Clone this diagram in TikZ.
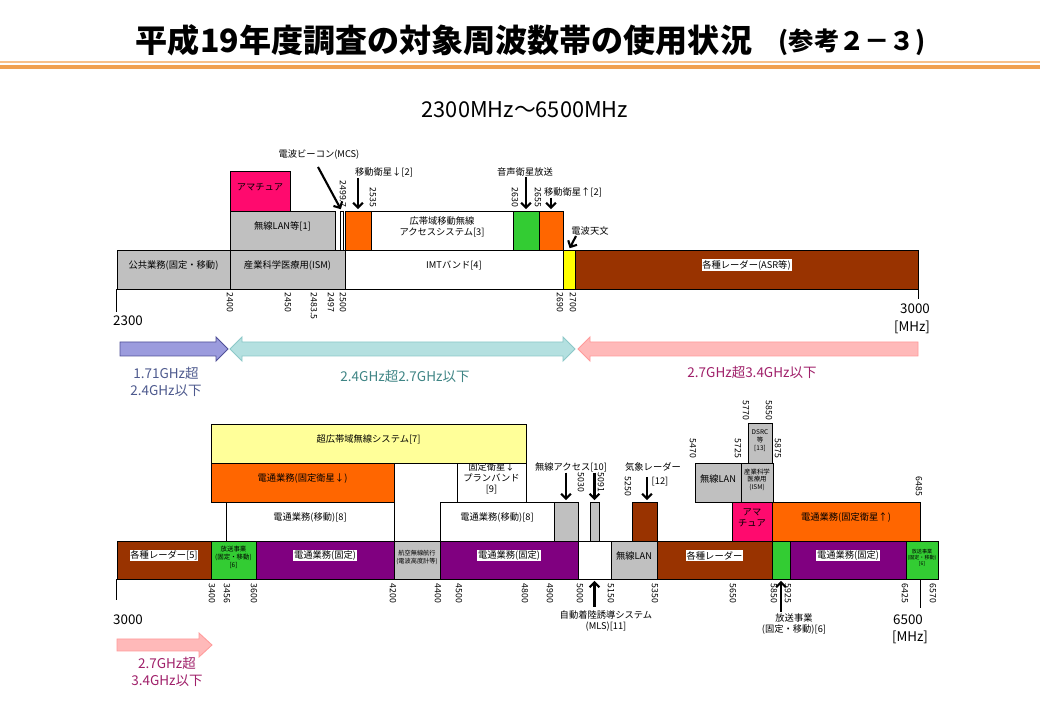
\documentclass[tikz,border=0pt]{standalone}
\usepackage{fontspec}
\setmainfont{Noto Sans CJK JP}
\usepackage{xcolor}
\usetikzlibrary{positioning, arrows.meta, fit}

\definecolor{bandgray}{HTML}{C0C0C0}
\definecolor{bandpink}{HTML}{FF0A6E}
\definecolor{bandorange}{HTML}{FF6600}
\definecolor{bandgreen}{HTML}{33CC33}
\definecolor{bandbrown}{HTML}{993300}
\definecolor{bandpurple}{HTML}{800080}
\definecolor{bandyellow}{HTML}{FFFF00}
\definecolor{uwbyellow}{HTML}{FFFF99}
\definecolor{rulelight}{HTML}{F7C08A}
\definecolor{ruledark}{HTML}{F0A050}
\definecolor{blueband}{HTML}{9B9BDD}
\definecolor{blueedge}{HTML}{505098}
\definecolor{tealband}{HTML}{B4E0E0}
\definecolor{tealedge}{HTML}{8CC8C8}
\definecolor{pinkband}{HTML}{FFB9B9}
\definecolor{pinkedge}{HTML}{FF9A9A}
\definecolor{bluetext}{HTML}{4E5A8E}
\definecolor{tealtext}{HTML}{3F8585}
\definecolor{pinktext}{HTML}{A0206A}

\newcommand{\whitetag}[1]{{\setlength{\fboxsep}{0.6pt}\colorbox{white}{#1}}}

\tikzset{
    band/.style={
        draw=black,           % 边框颜色
        line width=0.7pt,     % 边框线宽
        inner sep=0pt,        % 由 fit 决定大小
        align=center,
        font=\fontsize{6.6}{8}\selectfont
    },
    tinyband/.style={band, font=\fontsize{4.6}{5.4}\selectfont},
    freq_label/.style={
        rotate=-90,           % 频率刻度竖排
        inner sep=0.4pt,
        font=\fontsize{6.2}{7}\selectfont
    },
    note_label/.style={inner sep=0.5pt, align=center, font=\fontsize{6.6}{8}\selectfont},
    pointer_style/.style={
        -{Straight Barb[length=3.5pt,width=7pt]},
        line width=1.5pt,
        shorten >=1pt
    },
    axis_style/.style={line width=0.7pt},
    range_label/.style={align=center, font=\fontsize{9.6}{12}\selectfont},
    end_label/.style={inner sep=0pt, font=\fontsize{9.5}{12}\selectfont}
}

\begin{document}
\begin{tikzpicture}[x=0.025cm, y=-0.025cm]
    \useasboundingbox[fill=white] (0,0) rectangle (1040,720);

    % 1. 标题
    \node[font=\bfseries\fontsize{22.8}{26}\selectfont] (title) at (444,40) {平成19年度調査の対象周波数帯の使用状況};
    \node[font=\bfseries\fontsize{18}{22}\selectfont] (ref) at (852,42) {(参考２－３)};
    \draw[rulelight, line width=1pt] (0,62) -- (1040,62);
    \draw[ruledark, line width=2.2pt] (0,67) -- (1040,67);
    \node[font=\fontsize{15.5}{18}\selectfont] (range) at (525,110) {2300MHz～6500MHz};

    % 2. 上段 2300--3000MHz
    \node[band, fill=bandgray, fit={(117,250) (230,289)}] (kokyo) {公共業務(固定・移動)};
    \node[band, fill=bandgray, fit={(230,250) (345,289)}] (ism1) {産業科学医療用(ISM)};
    \node[band, fill=white, fit={(345,250) (563,289)}] (imt) {IMTバンド[4]};
    \node[band, fill=bandyellow, fit={(563,250) (575,289)}] (rastro) {};
    \node[band, fill=bandbrown, fit={(575,250) (918,289)}] (radar0) {\whitetag{各種レーダー(ASR等)}};
    \node[band, fill=bandgray, fit={(230,211) (335,250)}] (wlan1) {無線LAN等[1]};
    \node[band, fill=white, fit={(340,211) (343,250)}] (beacon) {};
    \node[band, fill=bandorange, fit={(345,211) (371,250)}] (mss1) {};
    \node[band, fill=white, fit={(371,211) (513,250)}] (bwa) {広帯域移動無線\\アクセスシステム[3]};
    \node[band, fill=bandgreen, fit={(513,211) (539,250)}] (sdars) {};
    \node[band, fill=bandorange, fit={(539,211) (563,250)}] (mss2) {};
    \node[band, fill=bandpink, fit={(230,171) (290,211)}] (ama1) {アマチュア};

    % 刻度
    \foreach \x/\f [count=\i] in {230/2400, 288/2450, 314/2483.5, 331/2497, 343/2500, 560/2690, 573/2700}
        \node[freq_label, anchor=west] (ta\i) at (\x,292) {\f};
    \foreach \x/\f [count=\i] in {343/2499.7, 373/2535, 515/2630, 538/2655}
        \node[freq_label, anchor=east] (tb\i) at (\x,208) {\f};

    \draw[axis_style] (kokyo.south west) -- ++(0,23);
    \draw[axis_style] (radar0.south east) -- ++(0,10);
    \node[end_label] (lo1) at (128,321) {2300};
    \node[end_label] (hi1) at (915,309) {3000};
    \node[end_label] (mhz1) at (912,327) {[MHz]};

    % 指示箭头
    \node[note_label] (mcs_l) at (319,155) {電波ビーコン(MCS)};
    \coordinate (mcs_s) at (318,167);
    \draw[pointer_style] (mcs_s) -- (beacon.north);
    \node[note_label] (mss1_l) at (384,172) {移動衛星↓[2]};
    \draw[pointer_style] (mss1_l.south -| mss1.north) -- (mss1.north);
    \node[note_label] (sdars_l) at (525,172) {音声衛星放送};
    \draw[pointer_style] (sdars_l.south -| sdars.north) -- (sdars.north);
    \node[note_label] (mss2_l) at (573,192) {移動衛星↑[2]};
    \draw[pointer_style] (mss2_l.south -| mss2.north) -- (mss2.north);
    \node[note_label] (rastro_l) at (590,231) {電波天文};
    \coordinate (rastro_s) at (576,236);
    \draw[pointer_style] (rastro_s) -- (rastro.north);

    % 3. 频段范围箭头
    \draw[blueedge, fill=blueband, line width=0.6pt]
        (120,342) -- (216,342) -- (216,337) -- (228,349) -- (216,361) -- (216,356) -- (120,356) -- cycle;
    \draw[tealedge, fill=tealband, line width=0.6pt]
        (230,349) -- (242,337) -- (242,342) -- (563,342) -- (563,337) -- (575,349)
        -- (563,361) -- (563,356) -- (242,356) -- (242,361) -- cycle;
    \draw[pinkedge, fill=pinkband, line width=0.6pt]
        (918,342) -- (590,342) -- (590,337) -- (578,349) -- (590,361) -- (590,356) -- (918,356) -- cycle;
    \node[range_label, text=bluetext] (r1) at (166,382) {1.71GHz超\\2.4GHz以下};
    \node[range_label, text=tealtext] (r2) at (405,376) {2.4GHz超2.7GHz以下};
    \node[range_label, text=pinktext] (r3) at (752,372) {2.7GHz超3.4GHz以下};

    % 4. 下段 3000--6500MHz
    \node[band, fill=bandbrown, fit={(117,541) (211,579)}] (radar5) {\whitetag{各種レーダー[5]}};
    \node[tinyband, fill=bandgreen, fit={(211,541) (256,579)}] (bc1) {放送事業\\(固定・移動)\\{}[6]};
    \node[band, fill=bandpurple, fit={(256,541) (394,579)}] (fx1) {\whitetag{電通業務(固定)}};
    \node[tinyband, fill=bandgray, font=\fontsize{4.4}{5.2}\selectfont, fit={(394,541) (440,579)}] (aero) {航空無線航行\\(電波高度計等)};
    \node[band, fill=bandpurple, fit={(440,541) (578,579)}] (fx2) {\whitetag{電通業務(固定)}};
    \node[band, fill=white, fit={(578,541) (611,579)}] (mls) {};
    \node[band, fill=bandgray, fit={(611,541) (657,579)}] (wlan2) {無線LAN};
    \node[band, fill=bandbrown, fit={(657,541) (772,579)}] (radar6) {\whitetag{各種レーダー}};
    \node[band, fill=bandgreen, fit={(772,541) (790,579)}] (bc2) {};
    \node[band, fill=bandpurple, fit={(790,541) (906,579)}] (fx3) {\whitetag{電通業務(固定)}};
    \node[tinyband, fill=bandgreen, font=\fontsize{3.6}{4.3}\selectfont, fit={(906,541) (938,579)}] (bc3) {放送事業\\(固定・移動)\\{}[6]};

    \node[band, fill=white, fit={(226,502) (394,541)}] (mob1) {電通業務(移動)[8]};
    \node[band, fill=white, fit={(440,502) (554,541)}] (mob2) {電通業務(移動)[8]};
    \node[band, fill=bandgray, fit={(554,502) (578,541)}] (acc1) {};
    \node[band, fill=bandgray, fit={(590,502) (599,541)}] (acc2) {};
    \node[band, fill=bandbrown, fit={(632,502) (657,541)}] (wxr) {};
    \node[band, fill=bandpink, fit={(732,502) (772,541)}] (ama2) {アマ\\チュア};
    \node[band, fill=bandorange, fit={(772,502) (920,541)}] (fss1) {電通業務(固定衛星↑)};

    \node[band, fill=bandorange, fit={(211,463) (394,502)}] (fss2) {電通業務(固定衛星↓)};
    \node[band, fill=white, fit={(457,463) (526,502)}] (fss3) {固定衛星↓\\プランバンド\\{}[9]};
    \node[band, fill=bandgray, fit={(695,463) (741,502)}] (wlan3) {無線LAN};
    \node[tinyband, fill=bandgray, fit={(741,463) (773,502)}] (ism2) {産業科学\\医療用\\(ISM)};
    \node[tinyband, fill=bandgray, fit={(748,423) (772,463)}] (dsrc) {DSRC\\等\\{}[13]};
    \node[band, fill=uwbyellow, fit={(211,424) (526,463)}] (uwb) {超広帯域無線システム[7]};

    % 刻度
    \foreach \x/\f [count=\i] in {212/3400, 227/3456, 254/3600, 393/4200, 438/4400, 459/4500, 525/4800, 550/4900, 580/5000, 611/5150, 655/5350, 733/5650, 774/5850, 788/5925, 905/6425, 933/6570}
        \node[freq_label, anchor=west] (tc\i) at (\x,583) {\f};
    \foreach \x/\y/\f [count=\i] in {581/493/5030, 601/493/5091, 628/497/5250, 693/459/5470, 738/459/5725, 746/421/5770, 769/421/5850, 778/459/5875, 919/497/6485}
        \node[freq_label, anchor=east] (td\i) at (\x,\y) {\f};

    \draw[axis_style] (radar5.south west) -- ++(0,21);
    \draw[axis_style] (fss1.east |- bc3.south) -- ++(0,29);
    \node[end_label] (lo2) at (128,620) {3000};
    \node[end_label] (hi2) at (908,620) {6500};
    \node[end_label] (mhz2) at (910,637) {[MHz]};

    % 指示箭头
    \node[note_label] (acc_l) at (571,467) {無線アクセス[10]};
    \draw[pointer_style] (acc_l.south -| acc1.north) -- (acc1.north);
    \draw[pointer_style] (acc_l.south -| acc2.north) -- (acc2.north);
    \node[note_label] (wxr_l) at (653,467) {気象レーダー};
    \node[note_label] (wxr_n) at (660,482) {[12]};
    \coordinate (wxr_s) at (647,477);
    \draw[pointer_style] (wxr_s) -- (wxr_s |- wxr.north);
    \node[note_label] (mls_l) at (606,621) {自動着陸誘導システム\\(MLS)[11]};
    \coordinate (mls_s) at (594.5,607);
    \draw[pointer_style] (mls_s) -- (mls.south);
    \node[note_label] (bc2_l) at (794,624) {放送事業\\(固定・移動)[6]};
    \coordinate (bc2_s) at (781,612);
    \draw[pointer_style] (bc2_s) -- (bc2.south);

    % 5. 下段范围箭头
    \draw[pinkedge, fill=pinkband, line width=0.6pt]
        (117,639) -- (199,639) -- (199,633) -- (212,645) -- (199,657) -- (199,651) -- (117,651) -- cycle;
    \node[range_label, text=pinktext] (r4) at (167,672) {2.7GHz超\\3.4GHz以下};
\end{tikzpicture}
\end{document}
